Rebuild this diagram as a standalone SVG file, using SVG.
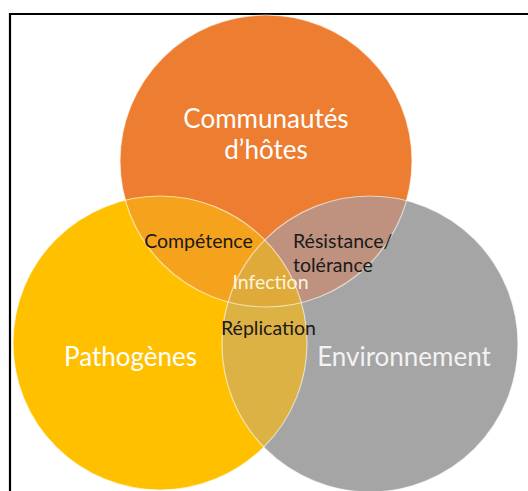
<svg xmlns="http://www.w3.org/2000/svg" width="528" height="491" viewBox="0 0 528 491">
<style>
.lbl{font-family:Lato,"Open Sans","Liberation Sans",sans-serif;text-anchor:middle}
.big{font-size:26px;fill:#ffffff}
.sm{font-size:19.5px;fill:#1a1a1a}
.outline{fill:none;stroke:#ffffff;stroke-opacity:0.6;stroke-width:1.2}
</style>
<defs>
<clipPath id="cO"><circle cx="266" cy="161" r="146"/></clipPath>
<clipPath id="cY"><circle cx="160" cy="343" r="147"/></clipPath>
</defs>
<rect width="528" height="491" fill="#ffffff"/>
<path d="M10,491 V14 H528" fill="none" stroke="#000" stroke-width="2.2"/>
<g id="hotes"><circle cx="266" cy="161" r="146" fill="#ED7D31"/></g>
<g id="pathogenes"><circle cx="160" cy="343" r="147" fill="#FFC000"/></g>
<g id="environnement"><circle cx="370" cy="344" r="148" fill="#A5A5A5"/></g>
<g id="competence"><circle cx="160" cy="343" r="147" fill="#F5A21C" clip-path="url(#cO)"/></g>
<g id="resistance"><circle cx="370" cy="344" r="148" fill="#BE927E" clip-path="url(#cO)"/></g>
<g id="replication"><circle cx="370" cy="344" r="148" fill="#DCB244" clip-path="url(#cY)"/></g>
<g id="infection"><g clip-path="url(#cO)"><circle cx="370" cy="344" r="148" fill="#E0AA3A" clip-path="url(#cY)"/></g></g>
<g id="outlines">
<circle class="outline" cx="266" cy="161" r="146"/>
<circle class="outline" cx="160" cy="343" r="147"/>
<circle class="outline" cx="370" cy="344" r="148"/>
</g>
<g id="labels">
<text class="lbl big" x="266" y="128">Communautés</text>
<text class="lbl big" x="266" y="159">d’hôtes</text>
<text class="lbl big" x="130.5" y="366">Pathogènes</text>
<text class="lbl big" x="404" y="366" style="fill:#F2F2F2">Environnement</text>
<text class="lbl sm" x="198.5" y="248">Compétence</text>
<text class="lbl sm" x="293" y="248" style="text-anchor:start">Résistance/</text>
<text class="lbl sm" x="293" y="272" style="text-anchor:start">tolérance</text>
<text class="lbl sm" x="270.5" y="289" style="fill:#FFF4DC">Infection</text>
<text class="lbl sm" x="268.5" y="335">Réplication</text>
</g>
</svg>
